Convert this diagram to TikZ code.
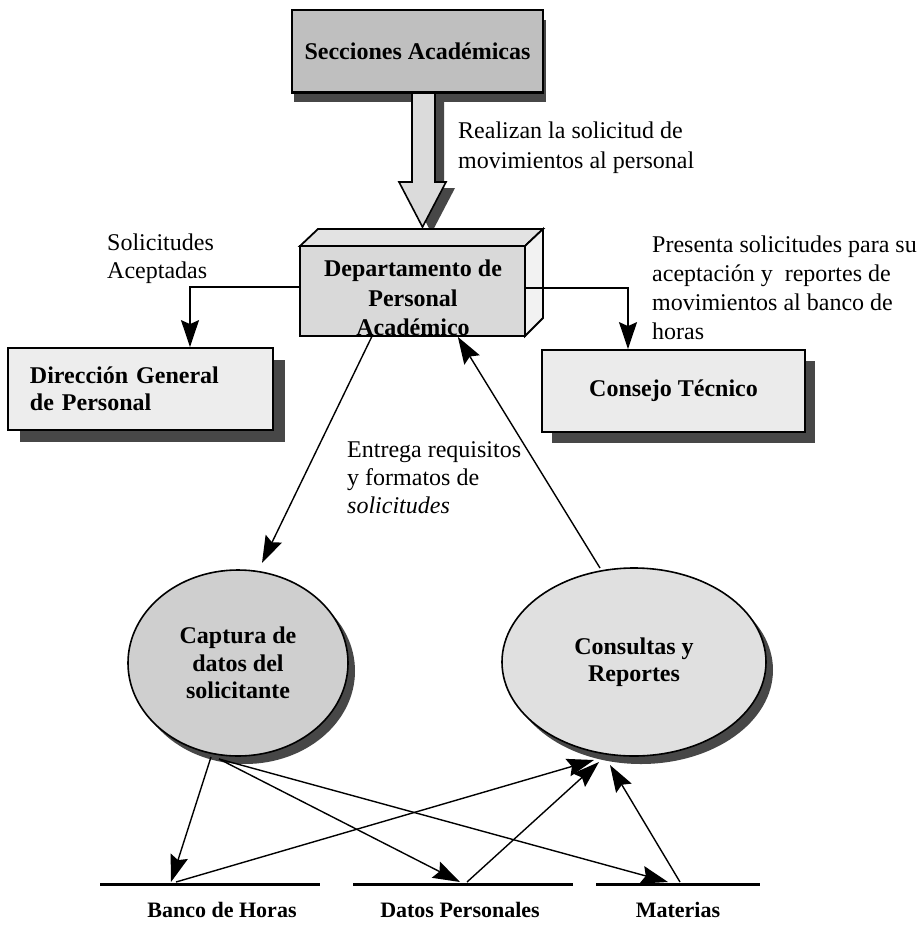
\documentclass[tikz,border=0pt]{standalone}
\usepackage{fontspec}
\setmainfont{Liberation Serif}
\usetikzlibrary{arrows.meta,shapes.geometric,calc}
\begin{document}
\begin{tikzpicture}[x=1pt,y=-1pt,
  conn/.style={line width=1.4pt,-{Stealth[length=27pt,width=18pt,inset=4pt]}},
  boxlbl/.style={font=\fontsize{24}{28}\selectfont\bfseries, align=center},
  note/.style={font=\fontsize{24}{29}\selectfont, align=left, anchor=north west, inner sep=0pt},
  shade/.style={fill=black!72, draw=none},
  boxframe/.style={draw, line width=1.8pt, inner sep=0pt},
  storeline/.style={line width=3pt},
  storelbl/.style={font=\fontsize{22}{26}\selectfont\bfseries, inner sep=0pt}
]
\useasboundingbox[fill=white] (0,0) rectangle (923,938);

% ---------- Secciones Academicas ----------
\fill[shade] (294,20) rectangle (546,102);
% block arrow shadow
\fill[shade] (421,98) -- (421,188) -- (408,188) -- (431.5,233) -- (455,188) -- (444,188) -- (444,98) -- cycle;
\node[boxframe, fill=gray!50, minimum width=251pt, minimum height=82pt, boxlbl] (secc) at (417.5,51) {Secciones Académicas};

% ---------- Departamento (3D box) ----------
\filldraw[line width=1.8pt, fill=gray!22] (300,246) -- (318,229) -- (543,229) -- (525,246) -- cycle;
\filldraw[line width=1.8pt, fill=gray!10] (525,246) -- (543,229) -- (543,318) -- (525,336) -- cycle;
\node[boxframe, fill=gray!30, minimum width=225pt, minimum height=90pt] (deptf) at (412.5,291) {};
\node[boxlbl, font=\fontsize{24}{29.5}\selectfont\bfseries] (dept) at (413,298) {Departamento de\\Personal\\Académico};

% block arrow
\filldraw[line width=1.6pt, fill=gray!28] (412,92) -- (412,182) -- (399,182) -- (422.5,227) -- (446,182) -- (435,182) -- (435,92) -- cycle;
\draw[line width=1.8pt] (secc.south west) -- (secc.south east);

% ---------- Direccion General ----------
\fill[shade] (20,360) rectangle (285,442);
\node[boxframe, fill=gray!14, minimum width=265pt, minimum height=82pt, text width=221pt, align=left,
      font=\fontsize{24}{27}\selectfont\bfseries] (dir) at (140.5,389) {Dirección General\\de Personal};

% ---------- Consejo Tecnico ----------
\fill[shade] (552,361) rectangle (815,443);
\node[boxframe, fill=gray!16, minimum width=263pt, minimum height=82pt, boxlbl] (cons) at (673.5,391) {Consejo Técnico};

% ---------- Ellipses ----------
\fill[shade] (245,671) ellipse [x radius=110, y radius=93];
\node[ellipse, draw, line width=1.6pt, fill=gray!38, minimum width=220pt, minimum height=186pt, inner sep=0pt,
      font=\fontsize{24}{27.5}\selectfont\bfseries, align=center] (capt) at (238,663) {Captura de\\datos del\\solicitante};
\fill[shade] (641,670) ellipse [x radius=132, y radius=94];
\node[ellipse, draw, line width=1.6pt, fill=gray!24, minimum width=264pt, minimum height=188pt, inner sep=0pt,
      font=\fontsize{24}{27}\selectfont\bfseries, align=center] (cons2) at (634,662) {Consultas y\\Reportes};

% ---------- Notes ----------
\node[note, font=\fontsize{24}{30}\selectfont] (n1) at (458,122) {Realizan la solicitud de\\movimientos al personal};
\node[note, font=\fontsize{24}{28}\selectfont] (n2) at (107,234) {Solicitudes\\Aceptadas};
\node[note, font=\fontsize{24}{29}\selectfont] (n3) at (652,236) {Presenta solicitudes para su\\aceptación y\ \ reportes de\\movimientos al banco de\\horas};
\node[note, font=\fontsize{24}{28}\selectfont] (n4) at (347,441) {Entrega requisitos\\y formatos de\\\textit{solicitudes}};

% ---------- Orthogonal connectors ----------
\coordinate (dl) at (190,287);
\coordinate (dr) at (628,288);
\draw[conn] (dl -| deptf.west) -| (dir.north -| dl);
\draw[conn] (dr -| deptf.east) -| (cons.north -| dr);

% ---------- Diagonal connectors ----------
\coordinate (dout) at ($(deptf.south west)!0.32!(deptf.south east)$);
\coordinate (din)  at ($(deptf.south west)!0.70!(deptf.south east)$);
\coordinate (captin) at (262,563);
\coordinate (consout) at (600,568);
\draw[conn] (dout) -- (captin);
\draw[conn] (consout) -- (din);

% ---------- Data stores ----------
\coordinate (bA) at (100,884); \coordinate (bB) at (320,884);
\coordinate (dA) at (353,884); \coordinate (dB) at (573,884);
\coordinate (mA) at (596,884); \coordinate (mB) at (760,884);
\draw[storeline] (bA) -- (bB);
\draw[storeline] (dA) -- (dB);
\draw[storeline] (mA) -- (mB);
\node[storelbl] (banco) at (222,910) {Banco de Horas};
\node[storelbl] (datos) at (460,910) {Datos Personales};
\node[storelbl] (mat) at (678,910) {Materias};

\coordinate (cb1) at (211,757);
\coordinate (cb2) at (219,759);
\coordinate (bh1) at (171,882); \coordinate (bh2) at (176,882);
\coordinate (dp1) at (460,882); \coordinate (dp2) at (467,882);
\coordinate (mt1) at (668,882); \coordinate (mt2) at (680,882);
\coordinate (cr1) at (594,760); \coordinate (cr2) at (599,762); \coordinate (cr3) at (610,765);

\draw[conn] (cb1) -- (bh1);
\draw[conn] (cb2) -- (dp1);
\draw[conn] (cb2) -- (mt1);
\draw[conn] (bh2) -- (cr1);
\draw[conn] (dp2) -- (cr2);
\draw[conn] (mt2) -- (cr3);
\end{tikzpicture}
\end{document}
